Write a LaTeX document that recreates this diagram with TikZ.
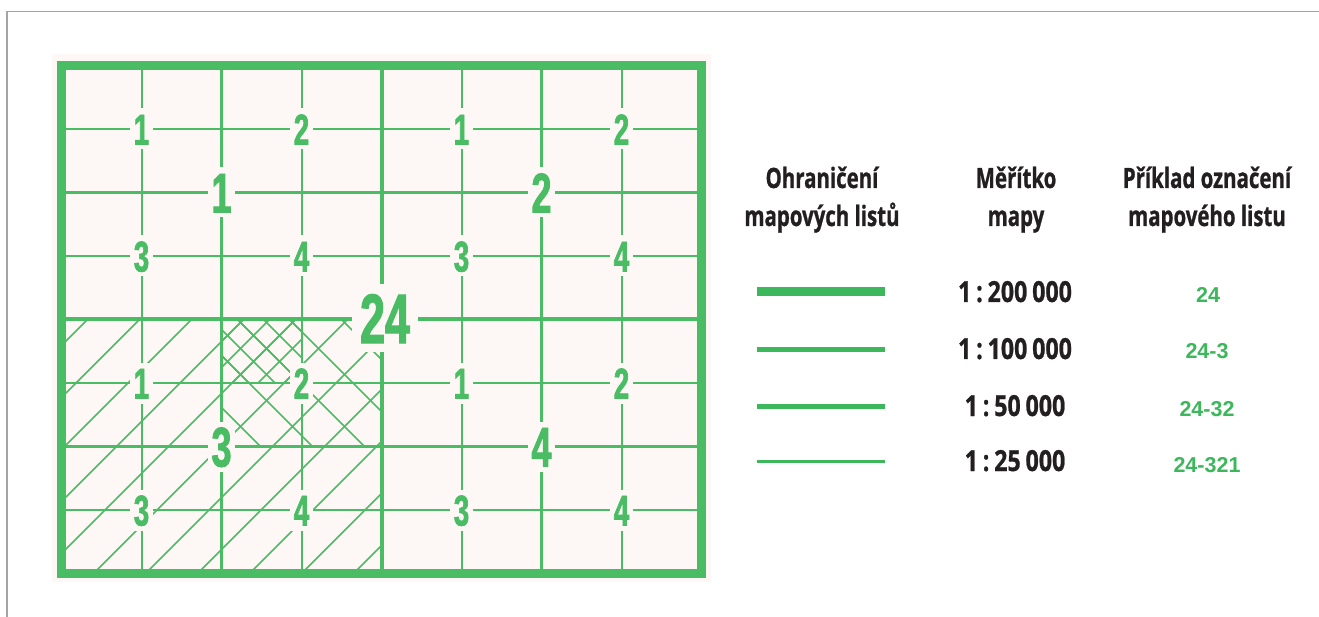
\documentclass[tikz,border=0pt]{standalone}
\usepackage{fontspec}
\newfontfamily\mapfont{Liberation Sans}[FakeStretch=0.64,FakeBold=1.6]
\newfontfamily\legfont{Open Sans}[FakeStretch=0.73,FakeBold=0.8]
\newfontfamily\numfont{Open Sans}[FakeStretch=0.8,FakeBold=0.8]
\newfontfamily\codefont{Liberation Sans}
\definecolor{mapgreen}{RGB}{74,189,100}
\definecolor{leggreen}{RGB}{61,183,91}
\definecolor{mapbg}{RGB}{253,248,245}
\definecolor{framegray}{RGB}{165,165,165}
\definecolor{txt}{RGB}{35,31,32}
\tikzset{
  l25/.style={draw=mapgreen,line width=2},
  l50/.style={draw=mapgreen,line width=3},
  l100/.style={draw=mapgreen,line width=4},
  l200/.style={draw=mapgreen,line width=9},
  hatchline/.style={draw=mapgreen,line width=1.7},
  smalllab/.style={fill=mapbg,text=mapgreen,font=\mapfont\bfseries\fontsize{43}{43}\selectfont,
    text height=31pt,text depth=0pt,inner xsep=4pt,inner ysep=5pt},
  biglab/.style={smalllab,font=\mapfont\bfseries\fontsize{56}{56}\selectfont,text height=40pt},
  hugelab/.style={smalllab,font=\mapfont\bfseries\fontsize{70}{70}\selectfont,text height=50pt,inner xsep=8pt,inner ysep=9pt},
  leg/.style={text=txt,font=\legfont\bfseries\fontsize{28}{28}\selectfont,anchor=base,inner sep=0pt},
  scalelab/.style={leg,font=\numfont\bfseries\fontsize{29}{29}\selectfont},
  code/.style={text=leggreen,font=\codefont\bfseries\fontsize{21.5}{21.5}\selectfont,anchor=base,inner sep=0pt},
  legline/.style={draw=leggreen}
}
\begin{document}
\begin{tikzpicture}[x=1pt,y=-1pt]
\useasboundingbox (0,0) rectangle (1319,617);
\fill[white] (0,0) rectangle (1319,617);
\draw[framegray,line width=1.5] (7,617) -- (7,11.5) -- (1319,11.5);
\fill[mapbg] (52,54) rectangle (711,582);
% hatching of sheet 24-3
\begin{scope}
  \clip (61.5,319.5) rectangle (381.5,573.5);
  \foreach \c in {355,407,...,979}
    \draw[hatchline] ({\c-319.5},319.5) -- ({\c-573.5},573.5);
\end{scope}
\begin{scope}
  \clip (221.5,319.5) rectangle (381.5,446.5);
  \foreach \d in {-238,-186,...,74}
    \draw[hatchline] ({\d+319.5},319.5) -- ({\d+446.5},446.5);
\end{scope}
\begin{scope}
  \clip (221.5,319.5) rectangle (301.5,383);
  \foreach \c in {537,563,...,693}
    \draw[hatchline] ({\c-319.5},319.5) -- ({\c-383},383);
  \foreach \d in {-186,-160,...,0}
    \draw[hatchline] ({\d+319.5},319.5) -- ({\d+383},383);
\end{scope}
% grid
\foreach \i in {1,3,5,7} {
  \draw[l25] ({61.5+80*\i},65.5) -- ({61.5+80*\i},573.5);
  \draw[l25] (61.5,{65.5+63.5*\i}) -- (701.5,{65.5+63.5*\i});
}
\foreach \i in {2,6} {
  \draw[l50] ({61.5+80*\i},65.5) -- ({61.5+80*\i},573.5);
  \draw[l50] (61.5,{65.5+63.5*\i}) -- (701.5,{65.5+63.5*\i});
}
\draw[l100] (381.5,65.5) -- (381.5,573.5);
\draw[l100] (61.5,319.5) -- (701.5,319.5);
\draw[l200] (61.5,65.5) rectangle (701.5,573.5);
% labels
\foreach \i/\j/\t [count=\n] in {1/1/1,3/1/2,1/3/3,3/3/4,5/1/1,7/1/2,5/3/3,7/3/4,
    1/5/1,3/5/2,1/7/3,3/7/4,5/5/1,7/5/2,5/7/3,7/7/4}
  \node[smalllab] (s\n) at ({61.5+80*\i},{65.5+63.5*\j}) {\t};
\foreach \i/\j/\t [count=\n] in {2/2/1,6/2/2,2/6/3,6/6/4}
  \node[biglab] (b\n) at ({61.5+80*\i},{65.5+63.5*\j}) {\t};
\node[hugelab] (main) at (385,318) {24};
% legend
\node[leg] (h1a) at (822,188) {Ohraničení};
\node[leg] (h1b) at (822,226) {mapových listů};
\node[leg] (h2a) at (1016,188) {Měřítko};
\node[leg] (h2b) at (1016,226) {mapy};
\node[leg] (h3a) at (1207,188) {Příklad označení};
\node[leg] (h3b) at (1207,226) {mapového listu};
\coordinate (a1) at (757,291.5); \coordinate (b1) at (885,291.5);
\coordinate (a2) at (757,349.5); \coordinate (b2) at (885,349.5);
\coordinate (a3) at (757,406.5); \coordinate (b3) at (885,406.5);
\coordinate (a4) at (757,461.5); \coordinate (b4) at (885,461.5);
\draw[legline,line width=9.5] (a1) -- (b1);
\draw[legline,line width=5.5] (a2) -- (b2);
\draw[legline,line width=4.5] (a3) -- (b3);
\draw[legline,line width=2.8] (a4) -- (b4);
\node[scalelab] (m1) at (1015,302) {1\,:\,200\,000};
\node[scalelab] (m2) at (1015,359) {1\,:\,100\,000};
\node[scalelab] (m3) at (1015,416) {1\,:\,50\,000};
\node[scalelab] (m4) at (1015,471) {1\,:\,25\,000};
\node[code] (c1) at (1208,303) {24};
\node[code] (c2) at (1207,359) {24-3};
\node[code] (c3) at (1207,416) {24-32};
\node[code] (c4) at (1207,472) {24-321};
\end{tikzpicture}
\end{document}
